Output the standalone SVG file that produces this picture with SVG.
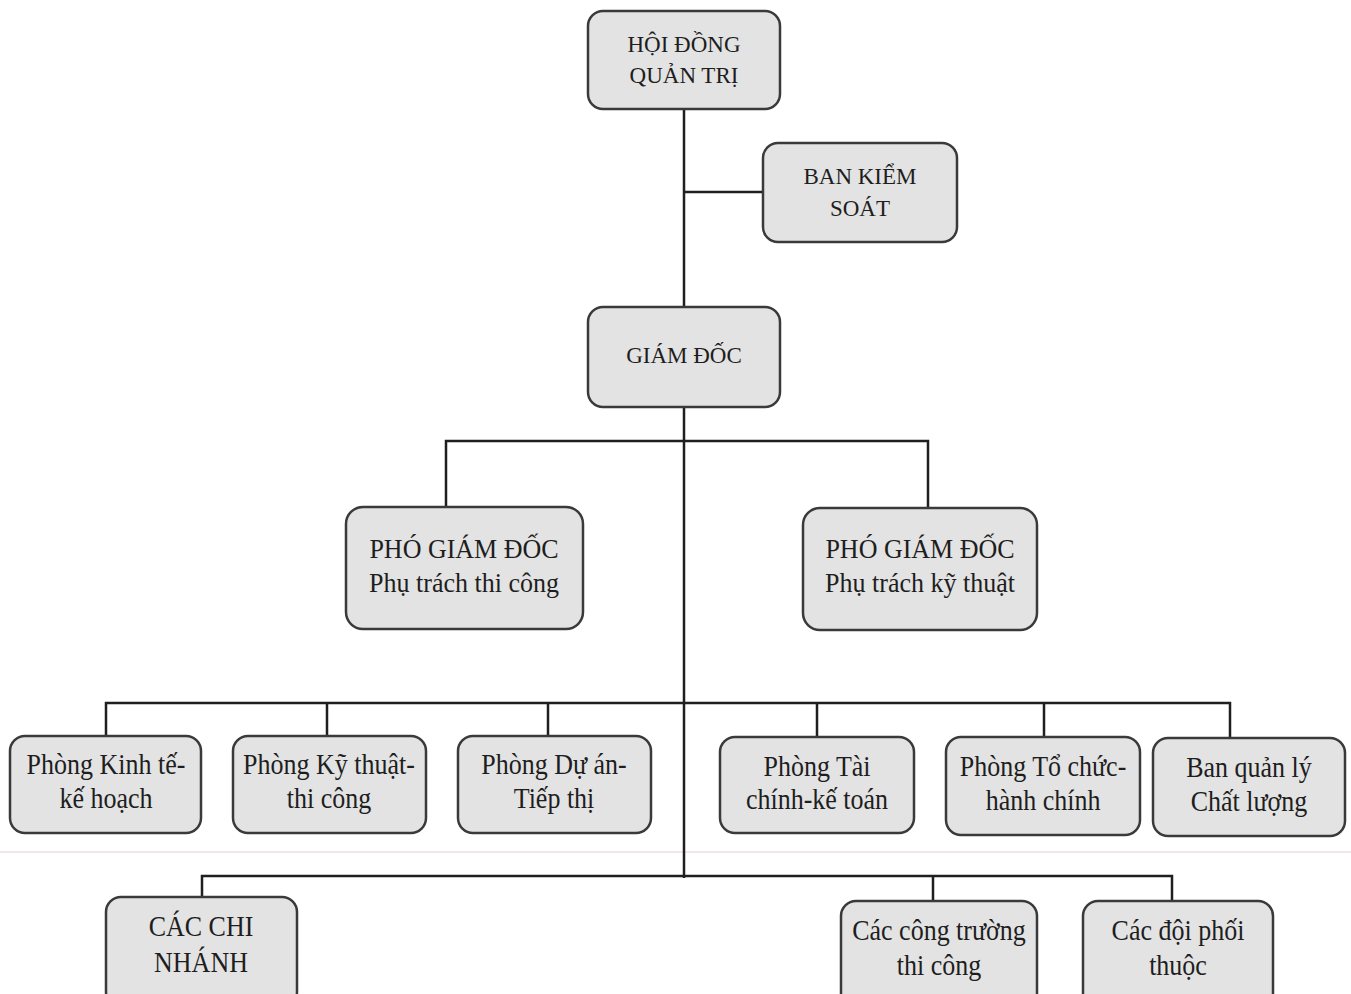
<svg xmlns="http://www.w3.org/2000/svg" width="1351" height="994" viewBox="0 0 1351 994">
<style>
.box{fill:#e3e3e3;stroke:#3a3a3a;stroke-width:2.5}
text{font-family:'Liberation Serif',serif;fill:#1e1e1e;text-anchor:middle}
.s1{font-size:23px}
.s2{font-size:26px}
.c{fill:none;stroke:#1f1f1f;stroke-width:2.5}
</style>
<rect width="1351" height="994" fill="#ffffff"/>
<line x1="0" y1="852" x2="1351" y2="852" stroke="#f1dbe9" stroke-width="1.5"/>
<g id="connectors">
<path class="c" d="M684 109V307M684 192H763M684 407V878"/>
<path class="c" d="M446 507V441H928V508"/>
<path class="c" d="M106 736V703H1230V738M327 703V736M548 703V736M817 703V737M1044 703V737"/>
<path class="c" d="M202 897V876H1172V901M933 876V901"/>
</g>
<g id="hdqt"><rect class="box" x="588" y="11" width="192" height="98" rx="15"/><text class="s1" x="684" y="52">HỘI ĐỒNG</text><text class="s1" x="684" y="83">QUẢN TRỊ</text></g>
<g id="bks"><rect class="box" x="763" y="143" width="194" height="99" rx="15"/><text class="s1" x="860" y="184">BAN KIỂM</text><text class="s1" x="860" y="216">SOÁT</text></g>
<g id="gd"><rect class="box" x="588" y="307" width="192" height="100" rx="15"/><text class="s1" x="684" y="363">GIÁM ĐỐC</text></g>
<g id="pgd1"><rect class="box" x="346" y="507" width="237" height="122" rx="17"/><text class="s2" transform="translate(464 558) scale(1 1.06)">PHÓ GIÁM ĐỐC</text><text class="s2" transform="translate(464 592) scale(1 1.06)">Phụ trách thi công</text></g>
<g id="pgd2"><rect class="box" x="803" y="508" width="234" height="122" rx="17"/><text class="s2" transform="translate(920 558) scale(1 1.06)">PHÓ GIÁM ĐỐC</text><text class="s2" transform="translate(920 592) scale(1 1.06)">Phụ trách kỹ thuật</text></g>
<g id="p1"><rect class="box" x="10" y="736" width="191" height="97" rx="15"/><text class="s2" transform="translate(106 774) scale(1 1.15)">Phòng Kinh tế-</text><text class="s2" transform="translate(106 808) scale(1 1.15)">kế hoạch</text></g>
<g id="p2"><rect class="box" x="233" y="736" width="193" height="97" rx="15"/><text class="s2" transform="translate(329 774) scale(1 1.15)">Phòng Kỹ thuật-</text><text class="s2" transform="translate(329 808) scale(1 1.15)">thi công</text></g>
<g id="p3"><rect class="box" x="458" y="736" width="193" height="97" rx="15"/><text class="s2" transform="translate(554 774) scale(1 1.15)">Phòng Dự án-</text><text class="s2" transform="translate(554 808) scale(1 1.15)">Tiếp thị</text></g>
<g id="p4"><rect class="box" x="720" y="737" width="194" height="96" rx="15"/><text class="s2" transform="translate(817 776) scale(1 1.15)">Phòng Tài</text><text class="s2" transform="translate(817 809) scale(1 1.15)">chính-kế toán</text></g>
<g id="p5"><rect class="box" x="946" y="737" width="194" height="98" rx="15"/><text class="s2" transform="translate(1043 776) scale(1 1.15)">Phòng Tổ chức-</text><text class="s2" transform="translate(1043 810) scale(1 1.15)">hành chính</text></g>
<g id="p6"><rect class="box" x="1153" y="738" width="192" height="98" rx="15"/><text class="s2" transform="translate(1249 777) scale(1 1.15)">Ban quản lý</text><text class="s2" transform="translate(1249 811) scale(1 1.15)">Chất lượng</text></g>
<g id="ccn"><rect class="box" x="106" y="897" width="191" height="110" rx="15"/><text class="s2" transform="translate(201 936) scale(1 1.15)">CÁC CHI</text><text class="s2" transform="translate(201 972) scale(1 1.15)">NHÁNH</text></g>
<g id="cct"><rect class="box" x="841" y="901" width="196" height="110" rx="15"/><text class="s2" transform="translate(939 940) scale(1 1.15)">Các công trường</text><text class="s2" transform="translate(939 975) scale(1 1.15)">thi công</text></g>
<g id="cdp"><rect class="box" x="1083" y="901" width="190" height="110" rx="15"/><text class="s2" transform="translate(1178 940) scale(1 1.15)">Các đội phối</text><text class="s2" transform="translate(1178 975) scale(1 1.15)">thuộc</text></g>
</svg>
